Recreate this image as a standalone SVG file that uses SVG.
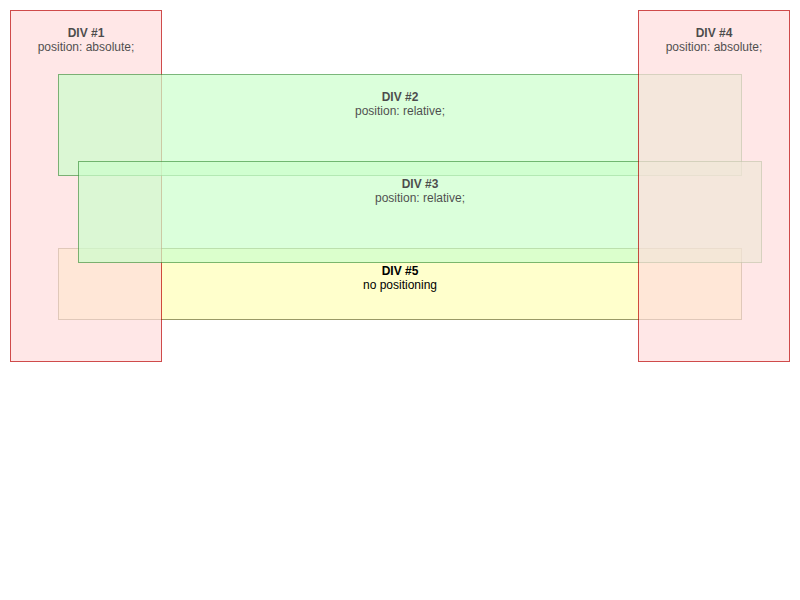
<svg xmlns="http://www.w3.org/2000/svg" width="800" height="600" viewBox="0 0 800 600">
<style>
text{font-family:"Liberation Sans",Arial,sans-serif;font-size:12px;text-anchor:middle;fill:#000}
.b{font-weight:bold}
.abs rect{fill:#ffdddd;stroke:#bb0000;stroke-width:1}
.rel rect{fill:#ccffcc;stroke:#449944;stroke-width:1}
.abs,.rel{opacity:0.7}
#div5 rect{fill:#ffffcc;stroke:#999966;stroke-width:1}
</style>
<rect width="800" height="600" fill="#fff"/>
<g id="div5">
<rect x="58.5" y="248.5" width="683" height="71"/>
<text x="400" y="275" class="b">DIV #5</text>
<text x="400" y="289">no positioning</text>
</g>
<g id="div1" class="abs">
<rect x="10.5" y="10.5" width="151" height="351"/>
<text x="86" y="37" class="b">DIV #1</text>
<text x="86" y="51">position: absolute;</text>
</g>
<g id="div2" class="rel">
<rect x="58.5" y="74.5" width="683" height="101"/>
<text x="400" y="101" class="b">DIV #2</text>
<text x="400" y="115">position: relative;</text>
</g>
<g id="div3" class="rel">
<rect x="78.5" y="161.5" width="683" height="101"/>
<text x="420" y="188" class="b">DIV #3</text>
<text x="420" y="202">position: relative;</text>
</g>
<g id="div4" class="abs">
<rect x="638.5" y="10.5" width="151" height="351"/>
<text x="714" y="37" class="b">DIV #4</text>
<text x="714" y="51">position: absolute;</text>
</g>
<g id="connectors"/>
</svg>
